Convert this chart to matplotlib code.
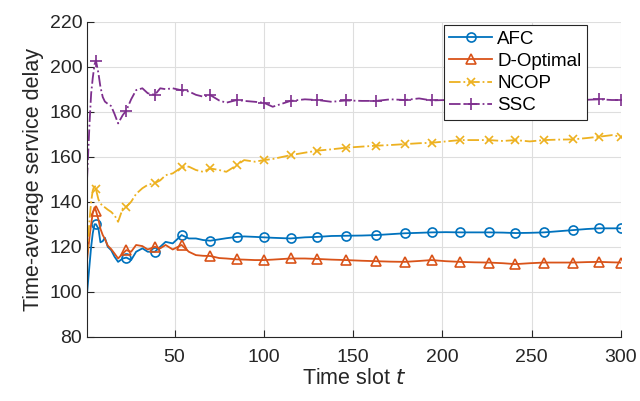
import matplotlib
matplotlib.use("Agg")
import matplotlib.pyplot as plt

t = [1, 2.4, 3.3, 4.2, 5.2, 6, 7.4, 8.5, 9.8, 11, 12.6, 14.5, 16.4, 18.4, 21, 23, 25.7, 28.5,
     32, 35, 39, 42, 45, 49, 54, 58, 62, 66, 70, 75, 79, 85, 89, 95, 100, 105, 115, 123, 130,
     138, 146, 155, 163, 171, 179, 187, 194, 202, 210, 218, 226, 234, 241, 249, 257, 265, 273,
     281, 288, 295, 300]

afc = [99.3, 112, 120, 126, 130, 130, 128, 122, 122.5, 124, 120, 118.5, 115.6, 113.3, 114.8,
       115.2, 114.1, 117.8, 119.3, 117.8, 117.8, 120, 122.2, 121.5, 125.2, 123.7, 123.7, 123,
       122.7, 123.3, 123.8, 124.4, 124.6, 124.4, 124.2, 124, 123.7, 124.2, 124.4, 124.8, 124.9,
       125, 125.2, 125.6, 126, 126.2, 126.4, 126.5, 126.4, 126.4, 126.4, 126.3, 126.1, 126.2,
       126.4, 126.9, 127.4, 127.9, 128.2, 128.2, 128.2]

dopt = [114.1, 124.4, 130, 135, 137.5, 136, 132, 128, 125.2, 123.5, 120.5, 119, 117, 114.8,
        117, 118.5, 117.8, 120.8, 120.3, 118.8, 120, 119.3, 120.8, 118.8, 120.8, 117.8, 116.3,
        116, 115.9, 115, 114.8, 114.4, 114.3, 114.1, 114.1, 114.3, 114.8, 114.8, 114.6, 114.3,
        114.1, 113.8, 113.6, 113.4, 113.3, 113.7, 114.1, 113.6, 113.3, 113.1, 113, 112.7, 112.3,
        112.7, 113, 113, 113, 113.2, 113.3, 113.1, 113]

ncop = [116, 132, 140, 145, 147.4, 145.5, 141, 139.3, 138, 137.5, 136.5, 135.5, 134, 131.1,
        137, 137.8, 140, 143.5, 146, 147.5, 148.3, 149.5, 151.8, 152.6, 155.3, 155.6, 154.1,
        153.3, 154.8, 154.1, 153.3, 156.3, 158.5, 157.8, 158.5, 159, 160.7, 161.8, 162.7, 163.3,
        164, 164.5, 164.9, 165.2, 165.6, 166, 166.2, 166.8, 167.4, 167.4, 167.4, 167, 167.4,
        166.8, 167.4, 167.6, 167.7, 168.3, 168.9, 169.6, 168.9]

ssc = [150, 175, 188, 195, 201, 202.7, 197, 191, 186.5, 184.5, 183.5, 182.5, 179, 174.8, 178.5,
       180.5, 185.5, 189.6, 190.4, 188.2, 187.5, 190.4, 190, 190.4, 189.5, 189, 187.5, 186.7,
       187.4, 185, 184, 185.2, 184.8, 184.4, 184, 182.2, 184.8, 185.5, 185.2, 184.4, 185, 184.8,
       184.8, 185.5, 185.2, 185.9, 185, 185.2, 185.3, 185.1, 185.4, 185.2, 185.3, 185, 185.4,
       185.3, 185.5, 185.3, 185.5, 185.2, 185.2]

marker_t = [6, 23, 39, 54, 70, 85, 100, 115, 130, 146, 163, 179, 194, 210, 226, 241, 257, 273,
            288, 300]
labels = ["AFC", "D-Optimal", "NCOP", "SSC"]
xticks = [50, 100, 150, 200, 250, 300]
yticks = [80, 100, 120, 140, 160, 180, 200, 220]

plt.rcParams['font.family'] = ['Liberation Sans', 'DejaVu Sans']

fig = plt.figure(figsize=(6.4, 4.01), dpi=100)
ax = fig.add_axes([0.136, 0.160, 0.834, 0.786])

mk = [i for i, v in enumerate(t) if v in marker_t]
lw = 1.3
ax.plot(t, afc, '-', color='#0072BD', lw=lw, marker='o', ms=6.5, mfc='none', mew=1.2,
        markevery=mk, label=labels[0])
ax.plot(t, dopt, '-', color='#D95319', lw=lw, marker='^', ms=7, mfc='none', mew=1.2,
        markevery=mk, label=labels[1])
ax.plot(t, ncop, '-.', color='#EDB120', lw=lw, marker='x', ms=5.5, mew=1.2,
        markevery=mk, label=labels[2])
ax.plot(t, ssc, '-.', color='#7E2F8E', lw=lw, marker='+', ms=9, mew=1.2,
        markevery=mk, label=labels[3])

ax.set_xlim(1, 300)
ax.set_ylim(80, 220)
ax.set_xticks(xticks)
ax.set_yticks(yticks)
ax.grid(True, color='#dedede', lw=0.8)
ax.set_axisbelow(True)
for s in ['top', 'right']:
    ax.spines[s].set_visible(False)
for s in ['left', 'bottom']:
    ax.spines[s].set_color('#262626')
    ax.spines[s].set_linewidth(0.8)
ax.tick_params(direction='in', length=5, width=0.8, colors='#262626', labelsize=14,
               labelcolor='#262626')
ax.tick_params(axis='x', pad=9)
ax.set_xlabel('Time slot $t$', fontsize=15.5, color='#262626', labelpad=1)
ax.set_ylabel('Time-average service delay', fontsize=15.5, color='#262626', labelpad=4)

leg = ax.legend(loc='upper right', bbox_to_anchor=(0.937, 0.989), fontsize=13.5,
                frameon=True, fancybox=False, edgecolor='#262626', framealpha=1,
                handlelength=2.25, borderpad=0.3, labelspacing=0.27, handletextpad=0.3,
                borderaxespad=0)
leg.get_frame().set_linewidth(0.8)

fig.savefig('out.png', dpi=100)
